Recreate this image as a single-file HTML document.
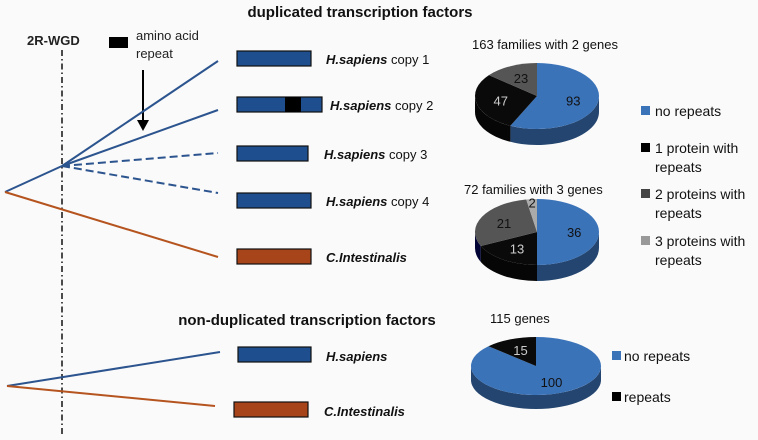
<!DOCTYPE html>
<html><head><meta charset="utf-8"><style>
body{margin:0;background:#fafafa}
svg{display:block;font-family:"Liberation Sans",sans-serif}
.b{font-weight:bold}
</style></head><body>
<svg id="s" width="758" height="440" viewBox="0 0 758 440">
<rect width="758" height="440" fill="#fafafa"/>
<text x="360" y="17" text-anchor="middle" font-size="15" class="b" fill="#111">duplicated transcription factors</text>
<line x1="62" y1="50" x2="62" y2="436" stroke="#111" stroke-width="1.5" stroke-dasharray="6,3,1.5,3"/>
<text x="27" y="45" font-size="13" class="b" fill="#222">2R-WGD</text>
<rect x="109" y="37" width="19" height="11" fill="#000"/>
<text x="136" y="40" font-size="13" fill="#222">amino acid</text>
<text x="136" y="58" font-size="13" fill="#222">repeat</text>
<line x1="143" y1="70" x2="143" y2="122" stroke="#000" stroke-width="2"/>
<polygon points="137,120 149,120 143,131" fill="#000"/>
<g stroke-width="2" fill="none">
<line x1="5" y1="192" x2="62" y2="166" stroke="#2c548e"/>
<line x1="62" y1="166" x2="218" y2="61" stroke="#2c548e"/>
<line x1="62" y1="166" x2="218" y2="110" stroke="#2c548e"/>
<line x1="62" y1="166" x2="218" y2="153" stroke="#2c548e" stroke-dasharray="8,4"/>
<line x1="62" y1="166" x2="218" y2="193" stroke="#2c548e" stroke-dasharray="8,4"/>
<line x1="5" y1="192" x2="218" y2="257" stroke="#b5541f"/>
</g>
<g stroke="#111" stroke-width="1.2">
<rect x="237" y="51" width="74" height="15" fill="#1f4e8f"/>
<rect x="237" y="97" width="85" height="15" fill="#1f4e8f"/>
<rect x="285" y="97" width="16" height="15" fill="#000" stroke="none"/>
<rect x="237" y="146" width="71" height="15" fill="#1f4e8f"/>
<rect x="237" y="193" width="74" height="15" fill="#1f4e8f"/>
<rect x="237" y="249" width="74" height="15" fill="#a8441a"/>
<rect x="238" y="347" width="73" height="15" fill="#1f4e8f"/>
<rect x="234" y="402" width="74" height="15" fill="#a8441a"/>
</g>
<g font-size="13" fill="#111">
<text x="326" y="64"><tspan font-style="italic" font-weight="bold">H.sapiens</tspan>  copy 1</text>
<text x="330" y="110"><tspan font-style="italic" font-weight="bold">H.sapiens</tspan> copy 2</text>
<text x="324" y="159"><tspan font-style="italic" font-weight="bold">H.sapiens</tspan> copy 3</text>
<text x="326" y="206"><tspan font-style="italic" font-weight="bold">H.sapiens</tspan> copy 4</text>
<text x="326" y="262" font-style="italic" font-weight="bold">C.Intestinalis</text>
<text x="326" y="361" font-style="italic" font-weight="bold">H.sapiens</text>
<text x="324" y="416" font-style="italic" font-weight="bold">C.Intestinalis</text>
</g>
<text x="307" y="325" text-anchor="middle" font-size="15" class="b" fill="#111">non-duplicated transcription factors</text>
<g stroke-width="2">
<line x1="7" y1="386" x2="220" y2="352" stroke="#2c548e"/>
<line x1="7" y1="386" x2="215" y2="406" stroke="#b5541f"/>
</g>
<g font-size="13" fill="#111">
<text x="472" y="49">163 families with 2 genes</text>
<text x="464" y="194">72 families with 3 genes</text>
<text x="490" y="323">115 genes</text>
</g>
<g font-size="14" fill="#111">
<rect x="641" y="106" width="9" height="9" fill="#3b73b9"/><text x="655" y="116">no repeats</text>
<rect x="641" y="143" width="9" height="9" fill="#000"/><text x="655" y="153">1 protein with</text><text x="655" y="172">repeats</text>
<rect x="641" y="189" width="9" height="9" fill="#444"/><text x="655" y="199">2 proteins with</text><text x="655" y="218">repeats</text>
<rect x="641" y="236" width="9" height="9" fill="#999"/><text x="655" y="246">3 proteins with</text><text x="655" y="265">repeats</text>
</g>
<g font-size="14" fill="#111">
<rect x="612" y="351" width="9" height="9" fill="#3b73b9"/><text x="624" y="361">no repeats</text>
<rect x="612" y="392" width="9" height="9" fill="#000"/><text x="624" y="402">repeats</text>
</g>
<g id="pies"></g>
</svg>
<script>
const pie1Values=[93,47,23];
const pie2Values=[36,13,21,2];
const pie3Values=[100,15];
const pie1Colors=['#3b73b9','#0a0a0a','#555'];
const pie2Colors=['#3b73b9','#0a0a0a','#555','#aaa'];
const pie3Colors=['#3b73b9','#0a0a0a'];
const pie1Label=['#111','#ccc','#111'];
const pie2Label=['#111','#ccc','#111','#111'];
const pie3Label=['#111','#ccc'];
const NS='http://www.w3.org/2000/svg';
const G=document.getElementById('pies');
function shade(c){const n=parseInt(c.slice(1),16);const f=0.6;return 'rgb('+Math.round((n>>16)*f)+','+Math.round(((n>>8)&255)*f)+','+Math.round((n&255)*f)+')';}
function drawPie(name,vals,cols,lcols,cx,cy,rx,ry,d){
  const g=document.createElementNS(NS,'g');
  
  
  G.appendChild(g);
  const tot=vals.reduce((a,b)=>a+b,0);
  const P=(a,dy)=>[cx+rx*Math.sin(a),cy-ry*Math.cos(a)+(dy||0)];
  let a0=0;const sl=[];
  vals.forEach((v,i)=>{const a1=a0+v/tot*2*Math.PI;sl.push([a0,a1,i]);a0=a1;});
  sl.forEach(([s,e,i])=>{
    const lo=Math.max(s,Math.PI/2),hi=Math.min(e,3*Math.PI/2);
    if(hi<=lo)return;
    const p1=P(lo),p2=P(hi),p3=P(hi,d),p4=P(lo,d);
    const pa=document.createElementNS(NS,'path');
    pa.setAttribute('d',`M${p1}L${p4}A${rx},${ry} 0 0 1 ${p3}L${p2}A${rx},${ry} 0 0 0 ${p1}Z`);
    pa.setAttribute('fill',shade(cols[i]));
    
    
    g.appendChild(pa);
  });
  sl.forEach(([s,e,i])=>{
    const p1=P(s),p2=P(e);const large=(e-s)>Math.PI?1:0;
    const pa=document.createElementNS(NS,'path');
    pa.setAttribute('d',`M${cx},${cy}L${p1}A${rx},${ry} 0 ${large} 1 ${p2}Z`);
    pa.setAttribute('fill',cols[i]);
    
    
    g.appendChild(pa);
    const m=(s+e)/2;const k=vals[i]/tot<0.05?0.9:0.6;
    const t=document.createElementNS(NS,'text');
    t.setAttribute('x',cx+rx*k*Math.sin(m));
    t.setAttribute('y',cy-ry*k*Math.cos(m)+5);
    t.setAttribute('text-anchor','middle');
    t.setAttribute('font-size','13');
    t.setAttribute('fill',lcols[i]);
    
    
    t.textContent=vals[i];
    g.appendChild(t);
  });
}
drawPie('pie-2-genes',pie1Values,pie1Colors,pie1Label,537,96,62,33,16);
drawPie('pie-3-genes',pie2Values,pie2Colors,pie2Label,537,232,62,33,16);
drawPie('pie-nondup',pie3Values,pie3Colors,pie3Label,536,366,65,29,14);
</script>
</body></html>
